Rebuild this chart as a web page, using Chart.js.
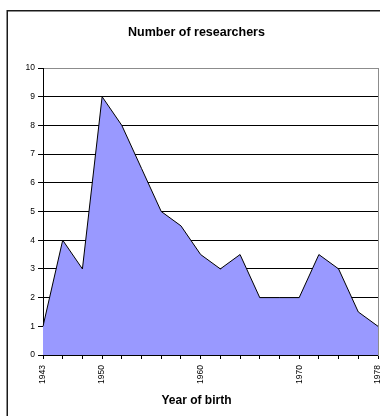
<!DOCTYPE html>
<html>
<head>
<meta charset="utf-8">
<script src="https://cdn.jsdelivr.net/npm/chart.js@4/dist/chart.umd.min.js"></script>
<style>
  html, body { margin: 0; padding: 0; background: #fff; }
  canvas { display: block; }
</style>
</head>
<body>
<canvas id="c" width="380" height="416"></canvas>
<script>
// Birth years of the researchers (category axis) and head counts per year
const years = [1943, 1945, 1947, 1950, 1952, 1954, 1956, 1958, 1960,
               1962, 1964, 1966, 1968, 1970, 1972, 1974, 1976, 1978];
const researchers = [1, 4, 3, 9, 8, 6.5, 5, 4.5, 3.5,
                     3, 3.5, 2, 2, 2, 3.5, 3, 1.5, 1];
// Years that get a printed label under the axis
const labelledYears = [1943, 1950, 1960, 1970, 1978];
const yTicks = { min: 0, max: 10, step: 1 };

const FONT = 'Liberation Sans, Arial, sans-serif';
Chart.defaults.font.family = FONT;
Chart.defaults.color = '#000';

// Thin dark frame around the whole chart object
const chartFrame = {
  id: 'chartFrame',
  beforeDraw(chart) {
    const ctx = chart.ctx;
    ctx.save();
    ctx.fillStyle = '#fff';
    ctx.fillRect(0, 0, chart.width, chart.height);
    ctx.strokeStyle = '#1a1a1a';
    ctx.lineWidth = 1.5;
    ctx.strokeRect(7.25, 10.75, chart.width + 20, chart.height + 20);
    ctx.restore();
  }
};

new Chart(document.getElementById('c'), {
  type: 'line',
  data: {
    labels: years,
    datasets: [{
      label: 'Number of researchers',
      data: researchers,
      fill: 'origin',
      backgroundColor: '#9999ff',
      borderColor: '#000',
      borderWidth: 1,
      pointRadius: 0,
      pointHoverRadius: 0,
      tension: 0
    }]
  },
  options: {
    responsive: false,
    animation: false,
    devicePixelRatio: 1,
    layout: { padding: { left: 15, right: 2, top: 0, bottom: 0 } },
    plugins: {
      legend: { display: false },
      tooltip: { enabled: false },
      title: {
        display: true,
        text: 'Number of researchers',
        color: '#000',
        font: { size: 12.5, weight: 'bold', family: FONT },
        padding: { top: 25, bottom: 28 }
      },
      subtitle: {
        display: true,
        position: 'bottom',
        text: 'Year of birth',
        color: '#000',
        font: { size: 12, weight: 'bold', family: FONT },
        padding: { top: 0, bottom: 8 }
      }
    },
    scales: {
      x: {
        type: 'category',
        offset: false,
        grid: {
          display: true,
          drawOnChartArea: false,
          drawTicks: true,
          tickLength: 4,
          color: '#000'
        },
        border: { display: true, color: '#000', width: 1 },
        ticks: {
          autoSkip: false,
          minRotation: 90,
          maxRotation: 90,
          padding: 6,
          color: '#000',
          font: { size: 8.5, family: FONT },
          callback(value) {
            const y = years[value];
            return labelledYears.includes(y) ? String(y) : '';
          }
        },
        afterFit(scale) {
          scale.height = 38.6;
          scale.paddingLeft = 0;
          scale.paddingRight = 0;
        }
      },
      y: {
        min: yTicks.min,
        max: yTicks.max,
        grid: {
          drawTicks: true,
          tickLength: 5,
          color: (ctx) => (ctx.tick && ctx.tick.value === yTicks.max) ? '#8c8c8c' : '#000',
          tickColor: '#000'
        },
        border: { display: true, color: '#000', width: 1 },
        ticks: {
          stepSize: yTicks.step,
          padding: 3,
          color: '#000',
          font: { size: 8.5, family: FONT }
        },
        afterFit(scale) {
          scale.width = 28;
        }
      },
      y2: {
        position: 'right',
        min: yTicks.min,
        max: yTicks.max,
        grid: { display: false, drawTicks: false },
        border: { display: true, color: '#8c8c8c', width: 1 },
        ticks: { display: false },
        afterFit(scale) {
          scale.width = 0;
        }
      }
    }
  },
  plugins: [chartFrame]
});
</script>
</body>
</html>
